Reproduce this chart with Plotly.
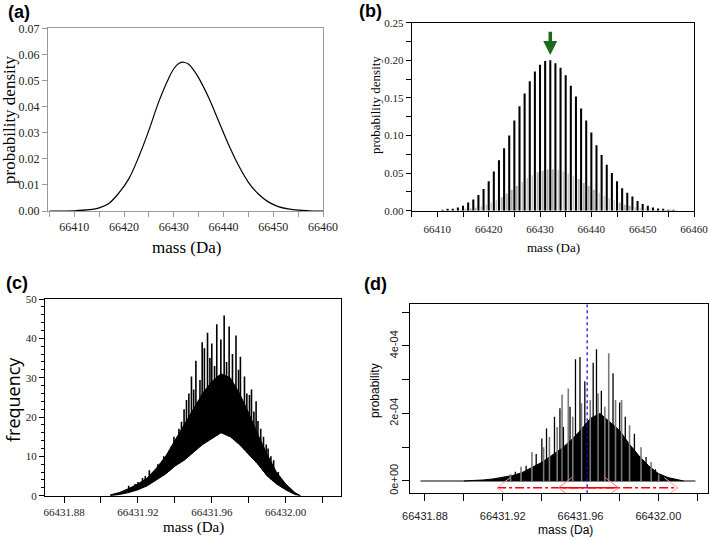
import numpy as np
import plotly.graph_objects as go

# ---- panel (a): smooth density ----
a_mass = [66405, 66410, 66413, 66415, 66417, 66419, 66421, 66423, 66425, 66427, 66429,
          66430, 66431, 66432, 66433, 66434, 66435, 66437, 66439, 66441, 66443, 66445,
          66447, 66449, 66451, 66453, 66455, 66457, 66460]
a_density = [0.0, 0.0001, 0.0005, 0.0012, 0.003, 0.007, 0.0125, 0.021, 0.031, 0.042, 0.051,
             0.0545, 0.0565, 0.057, 0.0562, 0.054, 0.051, 0.0435, 0.0345, 0.0255, 0.0175, 0.011,
             0.0065, 0.0035, 0.0017, 0.0008, 0.0003, 0.0001, 0.0]

# ---- panel (b): isotopic peaks ----
b_mass = list(range(66411, 66457))
b_main = [0.001, 0.0018, 0.0027, 0.0044, 0.0066, 0.011, 0.015, 0.021, 0.029, 0.039,
          0.052, 0.067, 0.083, 0.100, 0.120, 0.139, 0.156, 0.172, 0.185, 0.194,
          0.199, 0.200, 0.196, 0.190, 0.180, 0.166, 0.152, 0.136, 0.120, 0.104,
          0.087, 0.074, 0.061, 0.050, 0.039, 0.030, 0.024, 0.019, 0.013, 0.009,
          0.0066, 0.0044, 0.003, 0.0018, 0.0013, 0.0009]
b_minor = [0.0003, 0.0005, 0.0008, 0.0012, 0.002, 0.003, 0.004, 0.006, 0.008, 0.011,
           0.014, 0.018, 0.023, 0.028, 0.033, 0.038, 0.043, 0.047, 0.051, 0.053,
           0.055, 0.055, 0.054, 0.052, 0.049, 0.046, 0.042, 0.037, 0.033, 0.028,
           0.024, 0.020, 0.017, 0.014, 0.011, 0.008, 0.0065, 0.005, 0.0035, 0.0025,
           0.0018, 0.0012, 0.0008, 0.0005, 0.0004, 0.0003]
b_arrow_mass = 66432
b_arrow_tip, b_arrow_tail = 0.207, 0.240

# ---- panel (c): simulated frequency histogram ----
c_env_mass = [66431.905, 66431.910, 66431.915, 66431.920, 66431.925, 66431.930, 66431.935,
              66431.940, 66431.945, 66431.950, 66431.955, 66431.960, 66431.965, 66431.970,
              66431.975, 66431.980, 66431.985, 66431.990, 66431.995, 66432.000, 66432.005,
              66432.008]
c_lower = [0, 0.3, 0.8, 1.5, 2.5, 4, 5.5, 7.5, 9, 11, 13, 14.5, 16, 15, 13, 10.5, 8, 5, 3, 1.5, 0.3, 0]
c_upper = [0.2, 0.8, 1.8, 3, 4.5, 7, 10, 14, 18, 22, 26, 29, 31, 30, 26, 21, 15.5, 10.5, 6, 3, 0.8, 0]
c_spike_mass = [66431.9150, 66431.9185, 66431.9200, 66431.9225, 66431.9240, 66431.9262,
                66431.9290, 66431.9308, 66431.9326, 66431.9340, 66431.9353, 66431.9368,
                66431.9381, 66431.9395, 66431.9408, 66431.9422, 66431.9436, 66431.9450,
                66431.9463, 66431.9476, 66431.9490, 66431.9502, 66431.9514, 66431.9536,
                66431.9548, 66431.9560, 66431.9577, 66431.9590, 66431.9600, 66431.9615,
                66431.9627, 66431.9649, 66431.9667, 66431.9680, 66431.9694, 66431.9712,
                66431.9731, 66431.9745, 66431.9755, 66431.9777, 66431.9790, 66431.9804,
                66431.9815, 66431.9828, 66431.9840, 66431.9850, 66431.9865, 66431.9880,
                66431.9895, 66431.9905, 66431.9920, 66431.9935, 66431.9960, 66431.9980,
                66432.0010]
c_spike_freq = [2.5, 3, 3.5, 4.5, 5, 6.5, 6, 8, 6.5, 10, 9, 11, 12.5, 15, 13.7, 17, 18.8, 22,
                24.3, 26, 30.3, 27, 34.3, 29.4, 39, 37.5, 41.4, 35, 38.7, 33, 43.6, 39.7, 45.8,
                34, 43, 36, 40.7, 32, 35.3, 30.3, 26, 25.6, 27, 21.4, 24, 19, 17, 15, 13, 12,
                10, 9, 6, 4, 2]

# ---- panel (d): probability spectrum ----
d_env_mass = [66431.900, 66431.905, 66431.910, 66431.915, 66431.920, 66431.925, 66431.930,
              66431.935, 66431.940, 66431.945, 66431.950, 66431.955, 66431.960, 66431.965,
              66431.970, 66431.975, 66431.980, 66431.985, 66431.990, 66431.995, 66432.000,
              66432.005, 66432.010, 66432.013]
d_env_prob = [0, 0.01e-4, 0.03e-4, 0.06e-4, 0.1e-4, 0.16e-4, 0.25e-4, 0.4e-4, 0.55e-4, 0.75e-4,
              0.95e-4, 1.2e-4, 1.5e-4, 1.85e-4, 2.0e-4, 1.75e-4, 1.5e-4, 1.1e-4, 0.75e-4,
              0.45e-4, 0.22e-4, 0.1e-4, 0.03e-4, 0]
d_black_mass = [66431.9265, 66431.9320, 66431.9372, 66431.9401, 66431.9425, 66431.9466,
                66431.9494, 66431.9512, 66431.9546, 66431.9574, 66431.9597, 66431.9622,
                66431.9665, 66431.9682, 66431.9707, 66431.9767, 66431.9801, 66431.9830,
                66431.9877, 66431.9937, 66431.9985]
d_black_prob = [0.27e-4, 0.45e-4, 0.80e-4, 1.26e-4, 1.55e-4, 1.9e-4, 2.15e-4, 1.6e-4, 2.2e-4,
                3.6e-4, 3.67e-4, 2.95e-4, 3.5e-4, 3.9e-4, 2.67e-4, 3.19e-4, 2.32e-4, 1.9e-4,
                1.4e-4, 0.71e-4, 0.35e-4]
d_gray_mass = [66431.9240, 66431.9294, 66431.9350, 66431.9410, 66431.9440, 66431.9480,
               66431.9505, 66431.9537, 66431.9560, 66431.9605, 66431.9650, 66431.9690,
               66431.9725, 66431.9745, 66431.9780, 66431.9811, 66431.9852, 66431.9911,
               66431.9963, 66432.0002]
d_gray_prob = [0.2e-4, 0.42e-4, 0.86e-4, 1.0e-4, 1.3e-4, 1.6e-4, 2.56e-4, 2.74e-4, 1.9e-4,
               2.3e-4, 2.4e-4, 2.6e-4, 2.2e-4, 3.78e-4, 2.4e-4, 2.4e-4, 1.65e-4, 1.0e-4,
               0.56e-4, 0.2e-4]
d_baseline = [66431.8781, 66432.0187]
d_mean = 66431.9634
d_ci_inner = [66431.9487, 66431.9795]
d_ci_outer = [66431.9171, 66432.0099]
d_ci_level = -0.2e-4


def spikes(xs, tops, bases=None):
    px, py = [], []
    for i, (x, t) in enumerate(zip(xs, tops)):
        b = 0 if bases is None else bases[i]
        px += [x, x, None]
        py += [b, t, None]
    return px, py


fig = go.Figure()

# (a)
fig.add_trace(go.Scatter(x=a_mass, y=a_density, mode='lines', line=dict(color='black', width=1.2, shape='spline'),
                         xaxis='x', yaxis='y'))

# (b)
fig.add_trace(go.Bar(x=[m + 0.5 for m in b_mass], y=b_minor, width=0.1, marker=dict(color='#b0b0b0', line_width=0),
                     xaxis='x2', yaxis='y2'))
fig.add_trace(go.Bar(x=b_mass, y=b_main, width=0.4, marker=dict(color='black', line_width=0),
                     xaxis='x2', yaxis='y2'))

# (c)
fig.add_trace(go.Scatter(x=c_env_mass, y=c_lower, mode='lines', line=dict(color='black', width=1),
                         xaxis='x3', yaxis='y3'))
fig.add_trace(go.Scatter(x=c_env_mass, y=c_upper, mode='lines', line=dict(color='black', width=1),
                         fill='tonexty', fillcolor='black', xaxis='x3', yaxis='y3'))
cx, cy = spikes(c_spike_mass, c_spike_freq, np.interp(c_spike_mass, c_env_mass, c_lower))
fig.add_trace(go.Scatter(x=cx, y=cy, mode='lines', line=dict(color='black', width=1.6),
                         xaxis='x3', yaxis='y3'))

# (d)
fig.add_trace(go.Scatter(x=d_baseline, y=[0, 0], mode='lines+markers', line=dict(color='#808080', width=2),
                         marker=dict(size=2, color='#808080'), xaxis='x4', yaxis='y4'))
fig.add_trace(go.Scatter(x=d_env_mass, y=d_env_prob, mode='lines', line=dict(color='black', width=1),
                         fill='tozeroy', fillcolor='black', xaxis='x4', yaxis='y4'))
gx, gy = spikes(d_gray_mass, d_gray_prob)
fig.add_trace(go.Scatter(x=gx, y=gy, mode='lines', line=dict(color='#7a7a7a', width=1.6),
                         xaxis='x4', yaxis='y4'))
bx, by = spikes(d_black_mass, d_black_prob)
fig.add_trace(go.Scatter(x=bx, y=by, mode='lines', line=dict(color='black', width=1.3),
                         xaxis='x4', yaxis='y4'))

# confidence arrows in (d)
head_dx, head_dy = 0.0068, 0.3e-4
for ci, dash, hcol in [(d_ci_outer, 'dashdot', '#ffa0a0'), (d_ci_inner, 'solid', '#ff7a7a')]:
    fig.add_trace(go.Scatter(x=ci, y=[d_ci_level] * 2, mode='lines', line=dict(color='red', width=1.3, dash=dash),
                             xaxis='x4', yaxis='y4'))
    lo, hi = ci
    hx = [lo + head_dx, lo, lo + head_dx, None, hi - head_dx, hi, hi - head_dx]
    hy = [d_ci_level + head_dy, d_ci_level, d_ci_level - head_dy, None,
          d_ci_level + head_dy, d_ci_level, d_ci_level - head_dy]
    fig.add_trace(go.Scatter(x=hx, y=hy, mode='lines', line=dict(color=hcol, width=1),
                             xaxis='x4', yaxis='y4'))

fig.add_trace(go.Scatter(x=[d_mean, d_mean], y=[-0.36e-4, 5.23e-4], mode='lines',
                         line=dict(color='blue', width=1.2, dash='dot'), xaxis='x4', yaxis='y4'))

serif = 'Liberation Serif'
sans = 'Liberation Sans'


def axis(**kw):
    base = dict(showline=True, mirror=True, ticks='outside', showgrid=False, zeroline=False,
                linecolor='black', tickcolor='black', linewidth=1, automargin=False)
    base.update(kw)
    return base


W, H = 709, 537


def dx(p0, p1):
    return [p0 / W, p1 / W]


def dy(top, bottom):
    return [1 - bottom / H, 1 - top / H]


c_ticks = [66431.88, 66431.90, 66431.92, 66431.94, 66431.96, 66431.98, 66432.00, 66432.02]
c_text = ['66431.88', '', '66431.92', '', '66431.96', '', '66432.00', '']

fig.update_layout(
    template='none',
    width=W, height=H, margin=dict(l=0, r=0, t=0, b=0),
    paper_bgcolor='white', plot_bgcolor='white', showlegend=False, barmode='overlay',
    xaxis=axis(domain=dx(48, 323), range=[66404.7, 66460], anchor='y', linecolor='#999', tickcolor='#999',
               tickvals=list(range(66410, 66461, 10)), tickformat='d', ticklen=5,
               minor=dict(dtick=5, ticks='outside', ticklen=5, tickcolor='#999'),
               tickfont=dict(family=serif, size=12, color='#222')),
    yaxis=axis(domain=dy(28.3, 211), range=[0, 0.07], anchor='x', linecolor='#999', tickcolor='#999',
               tickvals=[0, 0.01, 0.02, 0.03, 0.04, 0.05, 0.06, 0.07], tickformat='.2f', ticklen=5,
               tickfont=dict(family=serif, size=12, color='#222')),
    xaxis2=axis(domain=dx(411.7, 694), range=[66405, 66460], anchor='y2',
                tickvals=list(range(66410, 66461, 10)), tickformat='d', ticklen=5,
                minor=dict(dtick=5, ticks='outside', ticklen=5),
                tickfont=dict(family=serif, size=11, color='#222'), ticklabelstandoff=3),
    yaxis2=axis(domain=dy(22.7, 210.7), range=[0, 0.25], anchor='x2',
                tickvals=[0, 0.05, 0.10, 0.15, 0.20, 0.25], tickformat='.2f', ticklen=5,
                minor=dict(dtick=0.025, ticks='outside', ticklen=5),
                tickfont=dict(family=serif, size=11, color='#222')),
    xaxis3=axis(domain=dx(45, 340.7), range=[66431.8697, 66432.0298], anchor='y3',
                tickvals=c_ticks, ticktext=c_text, ticklen=6,
                tickfont=dict(family=serif, size=11, color='#222')),
    yaxis3=axis(domain=dy(299, 495.7), range=[0, 50], anchor='x3', dtick=10, ticklen=5,
                minor=dict(dtick=2, ticks='outside', ticklen=3),
                tickfont=dict(family=serif, size=11, color='#222')),
    xaxis4=axis(domain=dx(410, 708.3), range=[66431.8723, 66432.0257], anchor='y4',
                tickvals=c_ticks, ticktext=c_text, ticklen=7,
                tickfont=dict(family=sans, size=11, color='#222'), ticklabelstandoff=6),
    yaxis4=axis(domain=dy(304.3, 493), range=[-0.356e-4, 5.23e-4], anchor='x4',
                tickvals=[0, 1e-4, 2e-4, 3e-4, 4e-4, 5e-4],
                ticktext=['0e+00', '', '2e-04', '', '4e-04', ''], tickangle=-90, ticklen=7,
                tickfont=dict(family=sans, size=11, color='#222')),
)

fig.add_annotation(x=b_arrow_mass, y=b_arrow_tip, ax=b_arrow_mass, ay=b_arrow_tail, xref='x2', yref='y2',
                   axref='x2', ayref='y2', showarrow=True, arrowhead=2, arrowsize=0.8, arrowwidth=3.5,
                   arrowcolor='#1c6a1c', text='')


def label(text, x, y, size, family, angle=0, bold=False, color='black'):
    t = '<b>' + text + '</b>' if bold else text
    fig.add_annotation(text=t, x=x / W, y=1 - y / H, xref='paper', yref='paper', showarrow=False,
                       textangle=angle, font=dict(family=family, size=size, color=color),
                       xanchor='center', yanchor='middle')


label('(a)', 19, 12, 18, sans, bold=True)
label('(b)', 370, 11, 18, sans, bold=True)
label('(c)', 17, 283, 18, sans, bold=True)
label('(d)', 376, 284, 18, sans, bold=True)

label('probability density', 10, 120, 17, serif, angle=-90)
label('mass (Da)', 186, 247, 17, serif)
label('probability density', 376, 105, 13, serif, angle=-90)
label('mass (Da)', 553, 248, 13, serif)
label('frequency', 13, 400, 18, 'Open Sans', angle=-90)
label('mass (Da)', 193, 527, 15, serif)
label('probability', 375, 390, 12, sans, angle=-90)
label('mass (Da)', 565, 530, 12, sans)

fig.write_html("out.html", config={'displayModeBar': False},
               post_script="document.body.style.margin='0';document.body.style.overflow='hidden';")
